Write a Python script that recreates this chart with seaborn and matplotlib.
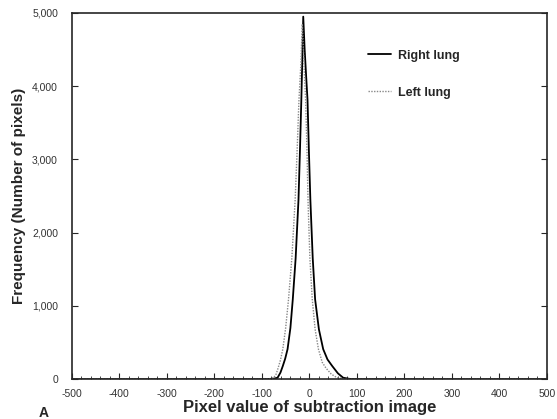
import seaborn as sns
import pandas as pd
import numpy as np
import matplotlib.pyplot as plt
from matplotlib.ticker import MultipleLocator, FuncFormatter

# histogram of subtraction image
right_x = [-500, -110, -85, -75, -67, -61, -56, -51, -46, -40, -35, -29, -23, -20, -17, -15, -13,
           -10, -7, -4, -1, 2, 7, 12, 20, 29, 38, 48, 60, 71, 85, 110, 500]
right_y = [0, 0, 3, 8, 20, 90, 180, 280, 410, 700, 1090, 1650, 2450, 3100, 3815, 4350, 4950,
           4500, 4150, 3815, 3100, 2450, 1650, 1090, 680, 410, 270, 180, 80, 20, 4, 0, 0]

left_x = [-500, -110, -92, -82, -75, -70, -66, -61, -56, -50, -44, -37, -30, -26, -22, -18, -15,
          -12, -10, -8, -5, -3, 1, 6, 12, 19, 27, 35, 46, 58, 75, 100, 500]
left_y = [0, 0, 3, 8, 20, 70, 150, 260, 410, 700, 1090, 1650, 2450, 3100, 3815, 4300, 4850,
          4400, 4100, 3815, 3100, 2450, 1650, 1090, 680, 410, 230, 150, 70, 20, 3, 0, 0]

df = pd.concat([
    pd.DataFrame({'Value': right_x, 'Frequency': right_y, 'Lung': 'Right lung'}),
    pd.DataFrame({'Value': left_x, 'Frequency': left_y, 'Lung': 'Left lung'}),
])

sns.set_style("ticks")
plt.rcParams['font.family'] = ['Liberation Sans', 'DejaVu Sans']
plt.rcParams['axes.unicode_minus'] = False

fig = plt.figure(figsize=(5.57, 4.19), dpi=100)
ax = fig.add_axes([0.129, 0.095, 0.853, 0.874])

sns.lineplot(data=df[df['Lung'] == 'Right lung'], x='Value', y='Frequency',
             color='black', lw=1.3, ax=ax, label='Right lung', estimator=None, sort=False)
sns.lineplot(data=df[df['Lung'] == 'Left lung'], x='Value', y='Frequency',
             color='#888888', lw=1.0, ls=(0, (1, 1)), ax=ax, label='Left lung',
             estimator=None, sort=False)

ax.set_xlim(-500, 500)
ax.set_ylim(0, 5000)
ax.xaxis.set_major_locator(MultipleLocator(100))
ax.xaxis.set_minor_locator(MultipleLocator(20))
ax.yaxis.set_major_locator(MultipleLocator(1000))
ax.yaxis.set_major_formatter(FuncFormatter(lambda v, p: f"{int(v):,}"))
ax.tick_params(which='both', direction='in', top=False, right=True, labelsize=7.5,
               labelcolor='#333333')
ax.tick_params(which='major', length=4)
ax.tick_params(which='minor', length=2)
ax.tick_params(axis='x', pad=7)
ax.tick_params(axis='y', pad=10)
for s in ax.spines.values():
    s.set_linewidth(1.2)

ax.set_xlabel("Pixel value of subtraction image", fontsize=12, fontweight='bold', labelpad=1)
ax.set_ylabel("Frequency (Number of pixels)", fontsize=11, fontweight='bold', labelpad=4)

leg = ax.legend(loc='upper left', bbox_to_anchor=(0.60, 0.93), frameon=False,
                handlelength=1.8, handletextpad=0.6, labelspacing=2.0,
                prop={'weight': 'bold', 'size': 9})

fig.text(0.07, 0.005, "A", fontsize=10, fontweight='bold')

fig.savefig("out.png", dpi=100)
